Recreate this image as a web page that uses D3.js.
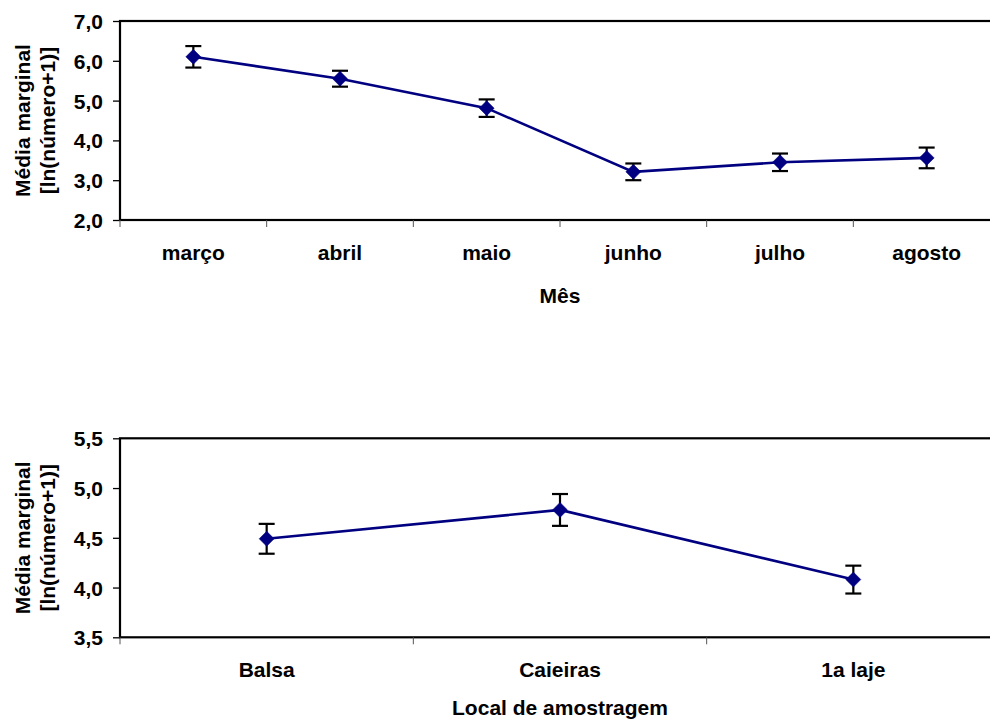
<!DOCTYPE html>
<html>
<head>
<meta charset="utf-8">
<script src="https://cdn.jsdelivr.net/npm/d3@7/dist/d3.min.js"></script>
<style>
  html, body { margin: 0; padding: 0; background: #fff; }
  svg { display: block; }
  text { font-family: "Liberation Sans", Arial, sans-serif; font-weight: bold; fill: #000; }
</style>
</head>
<body>
<svg id="chart" width="990" height="721"></svg>
<script>
// Marginal means (ln(count+1)) by month, with standard errors
const months = ["março", "abril", "maio", "junho", "julho", "agosto"];
const monthMeans = [6.10, 5.55, 4.81, 3.21, 3.45, 3.56];
const monthErrors = [0.27, 0.20, 0.22, 0.21, 0.22, 0.26];
const monthTicks = [2.0, 3.0, 4.0, 5.0, 6.0, 7.0];

// Marginal means by sampling site, with standard errors
const sites = ["Balsa", "Caieiras", "1a laje"];
const siteMeans = [4.49, 4.78, 4.08];
const siteErrors = [0.15, 0.16, 0.14];
const siteTicks = [3.5, 4.0, 4.5, 5.0, 5.5];

const yTitle = ["Média marginal", "[ln(número+1)]"];

const FS = 21;
const svg = d3.select("#chart");
const fmt = v => d3.format(".1f")(v).replace(".", ",");

function panel(opts) {
  const { cats, means, errs, ticks, top, bottom, xTitle, catY, titleY } = opts;
  const left = 120, right = 1000;
  const g = svg.append("g");

  const x = d3.scaleBand().domain(cats).range([left, right]).padding(0);
  const y = d3.scaleLinear().domain(d3.extent(ticks)).range([bottom, top]);

  // Plot frame
  g.append("rect")
    .attr("x", left).attr("y", top)
    .attr("width", right - left).attr("height", bottom - top)
    .attr("fill", "none").attr("stroke", "#000").attr("stroke-width", 2.2);

  // Y axis ticks and labels
  const yAxis = d3.axisLeft(y).tickValues(ticks).tickSize(7).tickPadding(10).tickFormat(fmt);
  const ya = g.append("g").attr("transform", `translate(${left},0)`).call(yAxis);
  ya.select(".domain").remove();
  ya.selectAll(".tick line").attr("stroke", "#000").attr("stroke-width", 1.3);
  ya.selectAll(".tick text").attr("font-size", FS).attr("font-family", null).attr("fill", "#000")
    .attr("dy", "0.36em");

  // X axis ticks at category boundaries
  const bounds = cats.map(c => x(c)).concat([right]);
  g.selectAll(".xtick").data(bounds).join("line")
    .attr("x1", d => d).attr("x2", d => d)
    .attr("y1", bottom).attr("y2", bottom + 7)
    .attr("stroke", "#555").attr("stroke-width", 1);

  // Category labels
  g.selectAll(".cat").data(cats).join("text")
    .attr("x", d => x(d) + x.bandwidth() / 2)
    .attr("y", catY)
    .attr("text-anchor", "middle")
    .attr("font-size", FS)
    .text(d => d);

  // Axis titles
  g.append("text").attr("x", (left + right) / 2).attr("y", titleY)
    .attr("text-anchor", "middle").attr("font-size", FS).text(xTitle);

  const cy = (top + bottom) / 2;
  yTitle.forEach((t, i) => {
    g.append("text")
      .attr("transform", `translate(${30 + i * 25},${cy}) rotate(-90)`)
      .attr("text-anchor", "middle").attr("font-size", FS).text(t);
  });

  const cx = d => x(d) + x.bandwidth() / 2;
  const pts = cats.map((c, i) => ({ c, m: means[i], e: errs[i] }));

  // Connecting line
  g.append("path").datum(pts)
    .attr("fill", "none").attr("stroke", "#000080").attr("stroke-width", 2.6)
    .attr("d", d3.line().x(d => cx(d.c)).y(d => y(d.m)));

  // Error bars
  const eb = g.selectAll(".eb").data(pts).join("g").attr("stroke", "#000").attr("stroke-width", 2.2);
  eb.append("line").attr("x1", d => cx(d.c)).attr("x2", d => cx(d.c))
    .attr("y1", d => y(d.m + d.e)).attr("y2", d => y(d.m - d.e));
  eb.append("line").attr("x1", d => cx(d.c) - 8).attr("x2", d => cx(d.c) + 8)
    .attr("y1", d => y(d.m + d.e)).attr("y2", d => y(d.m + d.e));
  eb.append("line").attr("x1", d => cx(d.c) - 8).attr("x2", d => cx(d.c) + 8)
    .attr("y1", d => y(d.m - d.e)).attr("y2", d => y(d.m - d.e));

  // Diamond markers
  g.selectAll(".mk").data(pts).join("path")
    .attr("transform", d => `translate(${cx(d.c)},${y(d.m)})`)
    .attr("d", "M0,-7.5L7.5,0L0,7.5L-7.5,0Z")
    .attr("fill", "#000080").attr("stroke", "#000080").attr("stroke-width", 0.5);
}

panel({ cats: months, means: monthMeans, errs: monthErrors, ticks: monthTicks,
        top: 21, bottom: 220, xTitle: "Mês", catY: 260, titleY: 303 });
panel({ cats: sites, means: siteMeans, errs: siteErrors, ticks: siteTicks,
        top: 438.3, bottom: 637.3, xTitle: "Local de amostragem", catY: 677, titleY: 715 });
</script>
</body>
</html>
